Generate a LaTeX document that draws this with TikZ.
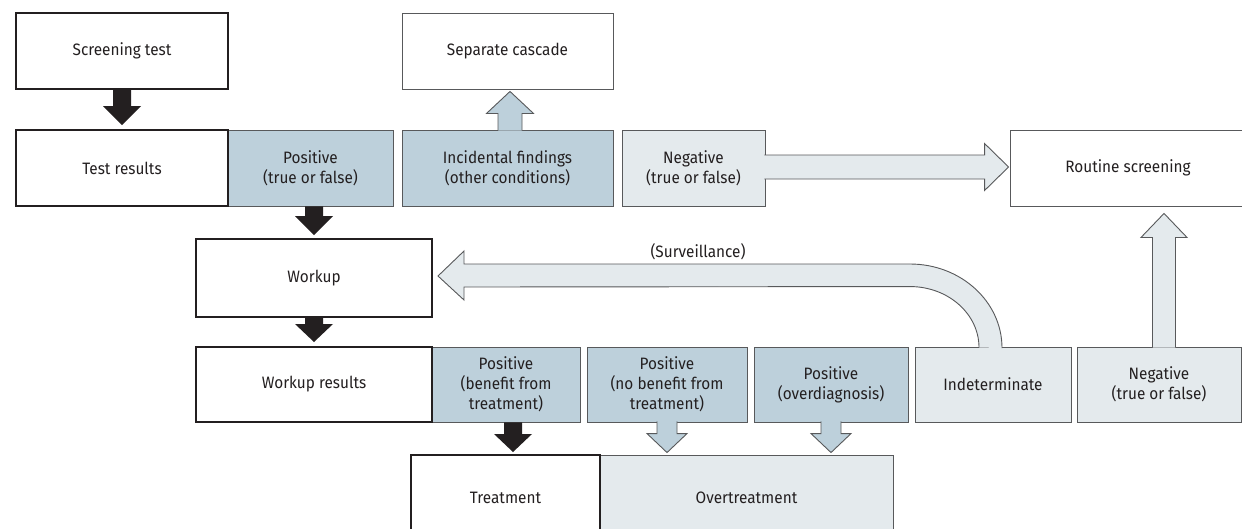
\documentclass[tikz,border=0pt]{standalone}
\usepackage{fontspec}
\setmainfont{Fira Sans}[FakeStretch=0.93]
\usetikzlibrary{calc}
\definecolor{bluef}{HTML}{BDD0DB}
\definecolor{lightf}{HTML}{E4EAED}
\definecolor{thinl}{HTML}{58595B}
\definecolor{ink}{HTML}{231F20}
\newcommand{\blockdown}[6]{%
  \path[#1] let \p1=(#2), \p2=(#3) in
   (\x2-#4pt,\y1) -- (\x2-#4pt,\y2+#6pt) -- (\x2-#5pt,\y2+#6pt) -- (\x2,\y2)
   -- (\x2+#5pt,\y2+#6pt) -- (\x2+#4pt,\y2+#6pt) -- (\x2+#4pt,\y1);}
\newcommand{\blockup}[6]{%
  \path[#1] let \p1=(#2), \p2=(#3) in
   (\x2-#4pt,\y1) -- (\x2-#4pt,\y2-#6pt) -- (\x2-#5pt,\y2-#6pt) -- (\x2,\y2)
   -- (\x2+#5pt,\y2-#6pt) -- (\x2+#4pt,\y2-#6pt) -- (\x2+#4pt,\y1);}
\newcommand{\blockright}[6]{%
  \path[#1] let \p1=(#2), \p2=(#3) in
   (\x1,\y2+#4pt) -- (\x2-#6pt,\y2+#4pt) -- (\x2-#6pt,\y2+#5pt) -- (\x2,\y2)
   -- (\x2-#6pt,\y2-#5pt) -- (\x2-#6pt,\y2-#4pt) -- (\x1,\y2-#4pt);}
\begin{document}
\begin{tikzpicture}[x=1pt,y=-1pt,
  box/.style={draw=thinl,line width=0.9pt,inner sep=0pt,align=center,text=ink,
    font=\fontsize{16.5}{20}\selectfont},
  sz/.style 2 args={minimum width=#1pt,minimum height=#2pt},
  bluebox/.style={box,fill=bluef},
  lightbox/.style={box,fill=lightf},
  whitebox/.style={box,fill=white},
  thickbox/.style={box,draw=ink,line width=2pt},
  blackarrow/.style={fill=ink},
  bluearrow/.style={fill=bluef,draw=thinl,line width=0.9pt,line join=miter},
  lightarrow/.style={fill=lightf,draw=thinl,line width=0.9pt,line join=miter},
  lbl/.style={text=ink,font=\fontsize{16.5}{20}\selectfont,inner sep=0pt}
]
\useasboundingbox (0,0) rectangle (1242,528);
\fill[white] (0,0) rectangle (1242,528);

% row 1
\node[thickbox,sz={212}{76}] (screen) at (122,51) {Screening test};
\node[whitebox,sz={211}{76}] (sepc) at (507.5,51) {Separate cascade};

% row 2
\node[bluebox,sz={165}{76}] (pos1) at (310.5,168) {Positive\\(true or false)};
\node[bluebox,sz={211}{76}] (incid) at (507.5,168) {Incidental findings\\(other conditions)};
\node[lightbox,sz={143}{76}] (neg1) at (693.5,168) {Negative\\(true or false)};
\node[whitebox,sz={236}{76}] (routine) at (1128,168) {Routine screening};
\node[thickbox,sz={212}{76}] (testres) at (122,168) {Test results};

% row 3
\node[thickbox,sz={236}{78}] (workup) at (314,278) {Workup};

% row 4
\node[bluebox,sz={148}{75}] (posb) at (506,384.5) {Positive\\(benefit from\\treatment)};
\node[bluebox,sz={160}{75}] (posn) at (667,384.5) {Positive\\(no benefit from\\treatment)};
\node[bluebox,sz={154}{75}] (poso) at (831,384.5) {Positive\\(overdiagnosis)};
\node[lightbox,sz={156}{75}] (indet) at (993,384.5) {Indeterminate};
\node[lightbox,sz={164}{75}] (neg2) at (1159,384.5) {Negative\\(true or false)};
\node[thickbox,sz={236}{75}] (wres) at (314,384.5) {Workup results};

% row 5
\node[lightbox,sz={293}{85}] (overt) at (746.5,497.5) {Overtreatment};
\node[thickbox,sz={189}{85}] (treat) at (505.5,497.5) {Treatment};

% black arrows
\blockdown{blackarrow}{screen.south}{[yshift=4pt]testres.north}{9}{19}{19}
\blockdown{blackarrow}{pos1.south}{[yshift=3pt]workup.north}{9}{19}{19}
\blockdown{blackarrow}{workup.south}{[yshift=4pt]wres.north}{9}{19}{18}
\blockdown{blackarrow}{posb.south}{[xshift=7pt,yshift=2pt]treat.north -| posb.south}{9}{19}{18}

% open arrows
\blockup{bluearrow}{[yshift=-1pt]incid.north}{[xshift=2.5pt,yshift=-2pt]sepc.south}{12}{23.5}{22}
\blockright{lightarrow}{[xshift=-1pt]neg1.east}{[xshift=-1pt,yshift=1pt]routine.west}{12}{23.5}{24}
\blockup{lightarrow}{[yshift=-1pt]neg2.north}{[xshift=5pt,yshift=-7pt]routine.south -| neg2.north}{11.5}{23}{24}
\blockdown{bluearrow}{[yshift=1pt]posn.south}{[yshift=2pt]overt.north -| posn.south}{10}{20}{19}
\blockdown{bluearrow}{[yshift=1pt]poso.south}{[yshift=2pt]overt.north -| poso.south}{10}{20}{19}

% surveillance arrow
\path[lightarrow] let \p1=(indet.north), \p2=(workup.east) in
  (\x1-14pt,\y1-1pt) arc[start angle=0,end angle=90,x radius=69pt,y radius=61pt]
  -- (\x2+31pt,\y2-9pt) -- (\x2+31pt,\y2-22pt) -- (\x2+5pt,\y2+2pt)
  -- (\x2+31pt,\y2+27pt) -- (\x2+31pt,\y2+14pt) -- (\x1-83pt,\y2+14pt)
  arc[start angle=90,end angle=0,x radius=92pt,y radius=84pt];
\node[lbl] (surv) at (698,252) {(Surveillance)};
\end{tikzpicture}
\end{document}
